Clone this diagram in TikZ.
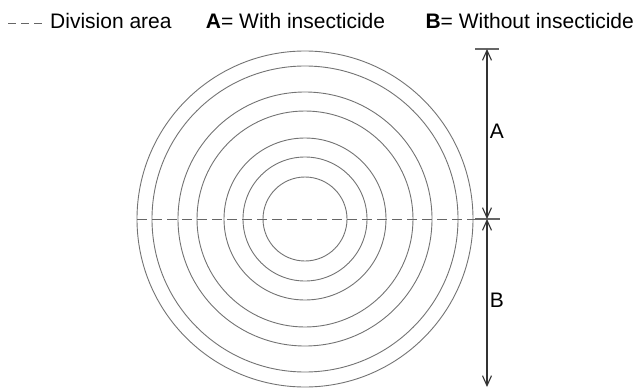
\documentclass[tikz,border=0pt]{standalone}
\usepackage{fontspec}
\setmainfont{Liberation Sans}
\usetikzlibrary{positioning,arrows.meta,calc}
\tikzset{
  lbl/.style   ={inner sep=0pt, font=\fontsize{21}{24}\selectfont},
  legend/.style={lbl, anchor=base west},
  ring/.style  ={draw=black!55, line width=0.9pt},
  divide/.style={draw=black!60, line width=1pt, dash pattern=on 10pt off 5pt},
  legdash/.style={draw=black!60, line width=1pt, dash pattern=on 8pt off 5pt},
  dim/.style   ={draw=black!80, line width=1.1pt,
                 {Straight Barb[length=10pt,width=9pt]}-{Straight Barb[length=10pt,width=9pt]}},
  tickmark/.style={draw=black!60, line width=2pt}
}

\begin{document}
\begin{tikzpicture}[x=1pt,y=-1pt]
  \useasboundingbox (0,0) rectangle (633,388);

  % legend
  \coordinate (lg1) at (8,23);
  \coordinate (lg2) at (42,23);
  \draw[legdash] (lg1) -- (lg2);
  \node[legend] (div) at (50,28) {Division area};
  \node[legend, right=34pt of div.base east, anchor=base west] (with) {\textbf{A}= With insecticide};
  \node[legend, right=40pt of with.base east, anchor=base west] (without) {\textbf{B}= Without insecticide};

  % rings
  \coordinate (ctr) at (305,219);
  \foreach \r in {42,62,81,108,127,153,168}
    \draw[ring] (ctr) circle (\r pt);

  % division line
  \coordinate (dl) at (137,219);
  \coordinate (dr) at (476,219);
  \draw[divide] (dl) -- (dr);

  % dimension A / B
  \coordinate (dtop) at (487,49);
  \coordinate (dmid) at (487,219);
  \coordinate (dbot) at (487,387);
  \draw[tickmark] ([xshift=-12pt]dtop) -- ([xshift=12pt]dtop);
  \draw[tickmark] ([xshift=-12pt]dmid) -- ([xshift=13pt]dmid);
  \draw[dim] (dmid) -- (dtop);
  \draw[dim] (dmid) -- (dbot);
  \node[lbl] (lA) at (497,131) {A};
  \node[lbl] (lB) at (497,300) {B};
\end{tikzpicture}
\end{document}
